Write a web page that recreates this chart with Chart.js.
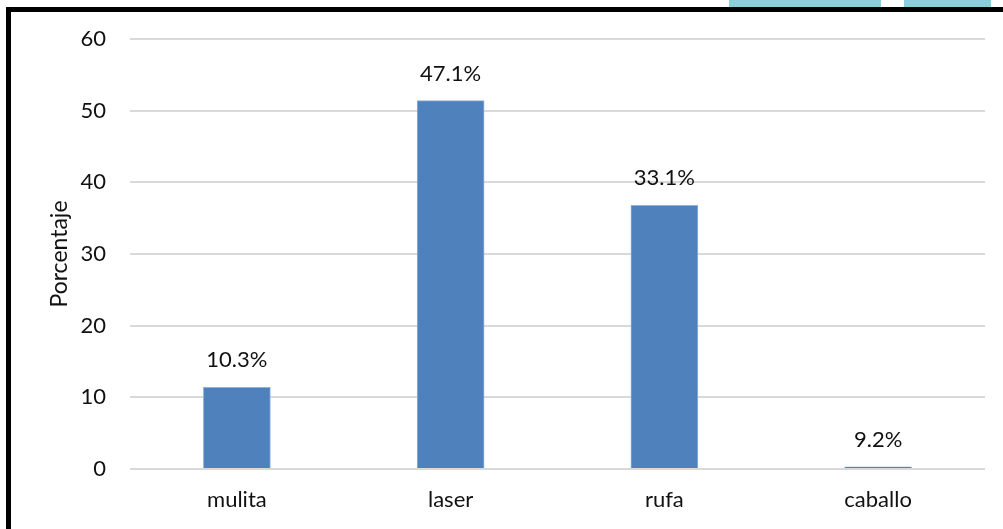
<!DOCTYPE html>
<html>
<head>
<meta charset="utf-8">
<script src="https://cdn.jsdelivr.net/npm/chart.js@4/dist/chart.umd.min.js"></script>
<style>
  body { margin: 0; background: #fff; overflow: hidden; }
  #wrap { position: relative; width: 1003px; height: 529px; }
  .tab { position: absolute; top: 0; height: 7px; background: #8bcfdc; }
  #frame {
    position: absolute; left: 6px; top: 7px; right: -10px; bottom: -10px;
    border-top: 5px solid #000; border-left: 5px solid #000;
  }
  canvas { position: absolute; left: 0; top: 0; }
</style>
</head>
<body>
<div id="wrap">
  <div class="tab" style="left:729px;width:152px"></div>
  <div class="tab" style="left:904px;width:87px"></div>
  <div id="frame"></div>
  <canvas id="barChart" width="1003" height="529"></canvas>
</div>
<script>
const categories = ["mulita", "laser", "rufa", "caballo"];
const values = [11.4, 51.4, 36.8, 0.3];
const pointLabels = ["10.3%", "47.1%", "33.1%", "9.2%"];
const yTicks = [0, 10, 20, 30, 40, 50, 60];

const fontFamily = "Lato, 'Open Sans', sans-serif";
const textColor = "#111111";

// labels above every bar
const barLabels = {
  id: "barLabels",
  afterDatasetsDraw(chart) {
    const ctx = chart.ctx;
    const meta = chart.getDatasetMeta(0);
    ctx.save();
    ctx.font = "22px " + fontFamily;
    ctx.fillStyle = textColor;
    ctx.textAlign = "center";
    ctx.textBaseline = "middle";
    meta.data.forEach((bar, i) => {
      ctx.fillText(pointLabels[i], bar.x, bar.y - 27);
    });
    ctx.restore();
  },
};

const ctx = document.getElementById("barChart").getContext("2d");
const barChart = new Chart(ctx, {
  type: "bar",
  data: {
    labels: categories,
    datasets: [
      {
        label: "Porcentaje",
        data: values,
        backgroundColor: "#4f81bd",
        borderColor: "#8fb0d8",
        borderWidth: 1,
        barThickness: 67,
      },
    ],
  },
  options: {
    responsive: false,
    animation: false,
    layout: { padding: { left: 10, right: 18, top: 39, bottom: 0 } },
    plugins: {
      legend: { display: false },
      tooltip: { enabled: false },
    },
    scales: {
      x: {
        grid: { display: false, drawTicks: false },
        border: { display: false },
        ticks: {
          color: textColor,
          font: { family: fontFamily, size: 22 },
          padding: 18,
        },
        afterFit(scale) {
          scale.height = 60;
        },
      },
      y: {
        min: 0,
        max: 60,
        afterBuildTicks(scale) {
          scale.ticks = yTicks.map((v) => ({ value: v }));
        },
        grid: { color: "#d9d9d9", lineWidth: 2, drawTicks: false },
        border: { display: false },
        ticks: {
          color: textColor,
          font: { family: fontFamily, size: 22 },
          padding: 24,
        },
        title: {
          display: true,
          text: "Porcentaje",
          color: textColor,
          font: { family: fontFamily, size: 23 },
          padding: { top: 36, bottom: 0 },
        },
        afterFit(scale) {
          scale.width = 120;
        },
      },
    },
  },
  plugins: [barLabels],
});
</script>
</body>
</html>
